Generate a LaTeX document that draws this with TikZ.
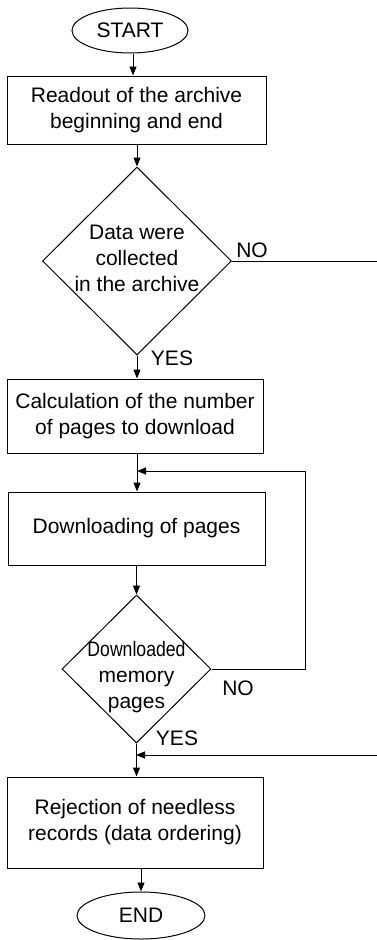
\documentclass[tikz,border=0pt]{standalone}
\usepackage{fontspec}
\setmainfont{Liberation Sans}
\usetikzlibrary{shapes.geometric,arrows.meta}
\begin{document}
\begin{tikzpicture}[x=1pt,y=-1pt,
  every node/.style={font=\fontsize{21}{26}\selectfont, align=center, line width=1pt},
  procbox/.style={draw, rectangle, inner sep=0pt},
  term/.style={draw, ellipse, inner sep=0pt},
  decis/.style={draw, diamond, inner sep=0pt},
  lbl/.style={inner sep=0pt},
  arr/.style={line width=1pt, -{Triangle[length=9pt,width=7pt]}},
  ln/.style={line width=1pt}]
\useasboundingbox (0,0) rectangle (377,940);
\node[term, minimum width=116pt, minimum height=45pt] (start) at (130,30.5) {START};
\node[procbox, minimum width=259pt, minimum height=68pt] (b1) at (136.5,110) {Readout of the archive\\beginning and end};
\node[decis, minimum width=189pt, minimum height=188pt] (d1) at (137,261) {};
\node[lbl] (d1t) at (137,258) {Data were\\collected\\in the archive};
\node[procbox, minimum width=256pt, minimum height=74pt] (b2) at (135,416) {Calculation of the number\\of pages to download};
\node[procbox, minimum width=257pt, minimum height=73pt] (b3) at (136.5,528.5) {Downloading of pages};
\node[decis, minimum width=149pt, minimum height=148pt] (d2) at (136.5,669) {};
\node[lbl] (d2t) at (136.5,677) {\scalebox{0.84}[1]{Downloaded}\\memory\\pages};
\node[procbox, minimum width=256pt, minimum height=91pt] (b4) at (135,822.5) {Rejection of needless\\records (data ordering)};
\node[term, minimum width=128pt, minimum height=47pt] (end) at (141,915.5) {END};
% labels
\node[lbl] (no1) at (252,250) {NO};
\node[lbl] (yes1) at (172,358) {YES};
\node[lbl] (no2) at (238,688) {NO};
\node[lbl] (yes2) at (177,738) {YES};
% coordinates
\coordinate (r1) at (d1.east -| 377,0);
\coordinate (jn1) at (137,471);
\coordinate (r2) at (377,755);
\coordinate (jn2) at (136,755);
% connectors
\draw[arr] (start.south -| 133,0) -- (133,0 |- b1.north);
\draw[arr] (b1.south -| d1.north) -- (d1.north);
\draw[ln] (d1.east) -- (r1);
\draw[arr] (d1.south) -- (d1.south |- b2.north);
\draw[arr] (b2.south -| jn1) -- (jn1 |- b3.north);
\draw[arr] (b3.south -| d2.north) -- (d2.north);
\draw[arr] (d2.east) -- (305,0 |- d2.east) |- (jn1);
\draw[arr] (d2.south) -- (d2.south |- b4.north);
\draw[arr] (r2) -- (jn2);
\draw[arr] (b4.south -| end.north) -- (end.north);
\end{tikzpicture}
\end{document}
